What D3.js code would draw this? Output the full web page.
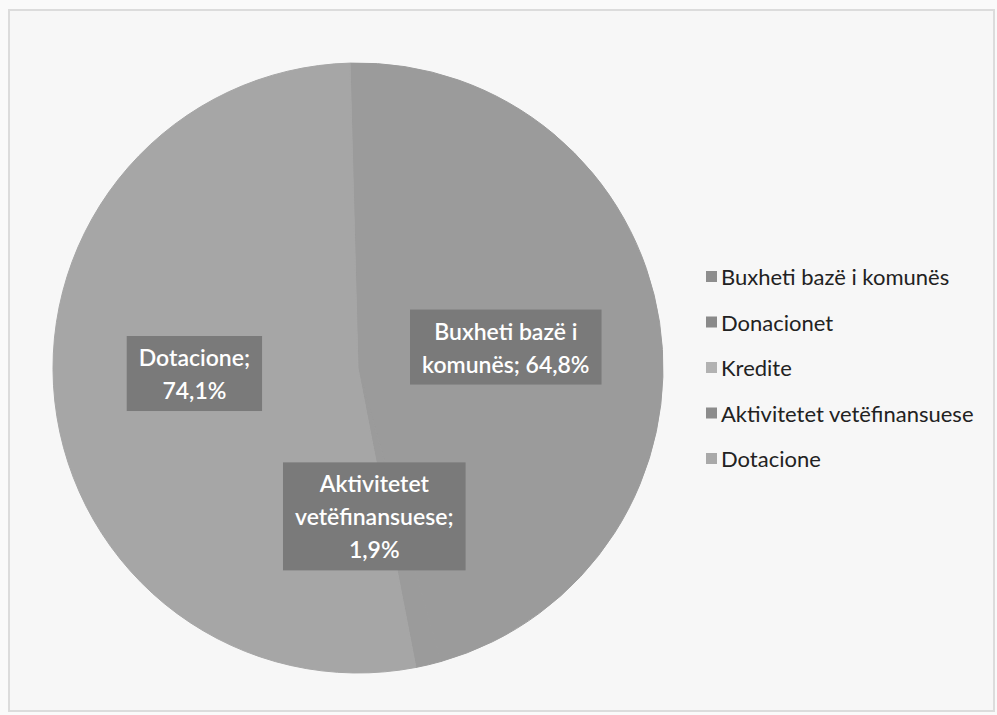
<!DOCTYPE html>
<html>
<head>
<meta charset="utf-8">
<script src="https://cdn.jsdelivr.net/npm/d3@7"></script>
<style>
  body { margin: 0; background: #fafafa; }
  svg { display: block; }
</style>
</head>
<body>
<div class="pie-chart"></div>
<script>
var categories = ['Buxheti bazë i komunës', 'Donacionet', 'Kredite', 'Aktivitetet vetëfinansuese', 'Dotacione'];
var values = [64.8, 0, 0, 1.9, 74.1];
var valueLabels = ['64,8%', '', '', '1,9%', '74,1%'];
// label text lines as they wrap in the picture
var labelLines = [
    ['Buxheti bazë i', 'komunës; 64,8%'],
    [],
    [],
    ['Aktivitetet', 'vetëfinansuese;', '1,9%'],
    ['Dotacione;', '74,1%']
];

window.onload = function () {
    var width = 997, height = 715;
    var cx = 358, cy = 368, radius = 305;

    var sliceColours = ['#9b9b9b', '#8c8c8c', '#b0b0b0', '#9b9b9b', '#a6a6a6'];
    var keyColours = ['#8e8e8e', '#8a8a8a', '#b2b2b2', '#8c8c8c', '#a9a9a9'];
    // nudges so the boxes sit where the picture has them
    var labelNudge = [[-3, 3], [0, 0], [0, 0], [-19, 1], [-12, -10]];

    var svg = d3.select('.pie-chart')
        .append('svg')
        .attr('width', width)
        .attr('height', height);

    svg.append('rect')
        .attr('x', 9).attr('y', 10)
        .attr('width', width - 12).attr('height', height - 14)
        .attr('fill', '#f7f7f7')
        .attr('stroke', '#dcdcdc')
        .attr('stroke-width', 2);

    var data = categories.map(function (c, i) {
        return { name: c, value: values[i], label: valueLabels[i], lines: labelLines[i], idx: i };
    });

    var pie = d3.pie()
        .sort(null)
        .value(function (d) { return d.value; })
        .startAngle(-0.026)
        .endAngle(2 * Math.PI - 0.026);

    var arc = d3.arc().innerRadius(0).outerRadius(radius);
    var labelArc = d3.arc().innerRadius(radius * 0.5).outerRadius(radius * 0.5);

    var g = svg.append('g').attr('transform', 'translate(' + cx + ',' + cy + ')');

    var arcs = pie(data);

    g.selectAll('.data-point').data(arcs).enter()
        .append('path')
        .attr('class', 'data-point')
        .attr('d', arc)
        .attr('fill', function (d) { return sliceColours[d.data.idx]; })
        .attr('stroke', function (d) { return sliceColours[d.data.idx]; })
        .attr('stroke-width', function (d) { return d.data.value > 0 ? 1 : 0; });

    var lineH = 33;
    var labels = g.selectAll('.slice-label').data(arcs.filter(function (d) { return d.data.value > 0; }))
        .enter().append('g')
        .attr('class', 'slice-label')
        .attr('transform', function (d) {
            var c = labelArc.centroid(d);
            var n = labelNudge[d.data.idx];
            return 'translate(' + (c[0] + n[0]) + ',' + (c[1] + n[1]) + ')';
        });

    labels.each(function (d) {
        var el = d3.select(this);
        var n = d.data.lines.length;
        var txt = el.append('text')
            .attr('text-anchor', 'middle')
            .attr('font-family', 'Lato, "Open Sans", sans-serif')
            .attr('font-size', 23)
            .attr('font-weight', 600)
            .attr('fill', '#fff');
        d.data.lines.forEach(function (line, k) {
            txt.append('tspan')
                .attr('x', 0)
                .attr('y', (k - (n - 1) / 2) * lineH + 8)
                .text(line);
        });
        var bb = txt.node().getBBox();
        el.insert('rect', 'text')
            .attr('x', bb.x - 12)
            .attr('y', bb.y - 7)
            .attr('width', bb.width + 24)
            .attr('height', bb.height + 14)
            .attr('fill', '#7a7a7a');
    });

    var legend = svg.append('g').attr('transform', 'translate(706,277)');
    var item = legend.selectAll('.key').data(categories).enter()
        .append('g')
        .attr('class', 'key')
        .attr('transform', function (d, i) { return 'translate(0,' + (i * 45.5) + ')'; });

    item.append('rect')
        .attr('x', 0).attr('y', -6)
        .attr('width', 11).attr('height', 11)
        .attr('fill', function (d, i) { return keyColours[i]; });

    item.append('text')
        .attr('x', 15)
        .attr('y', 8)
        .attr('font-family', 'Lato, "Open Sans", sans-serif')
        .attr('font-size', 22)
        .attr('fill', '#222')
        .text(function (d) { return d; });
};
</script>
</body>
</html>
